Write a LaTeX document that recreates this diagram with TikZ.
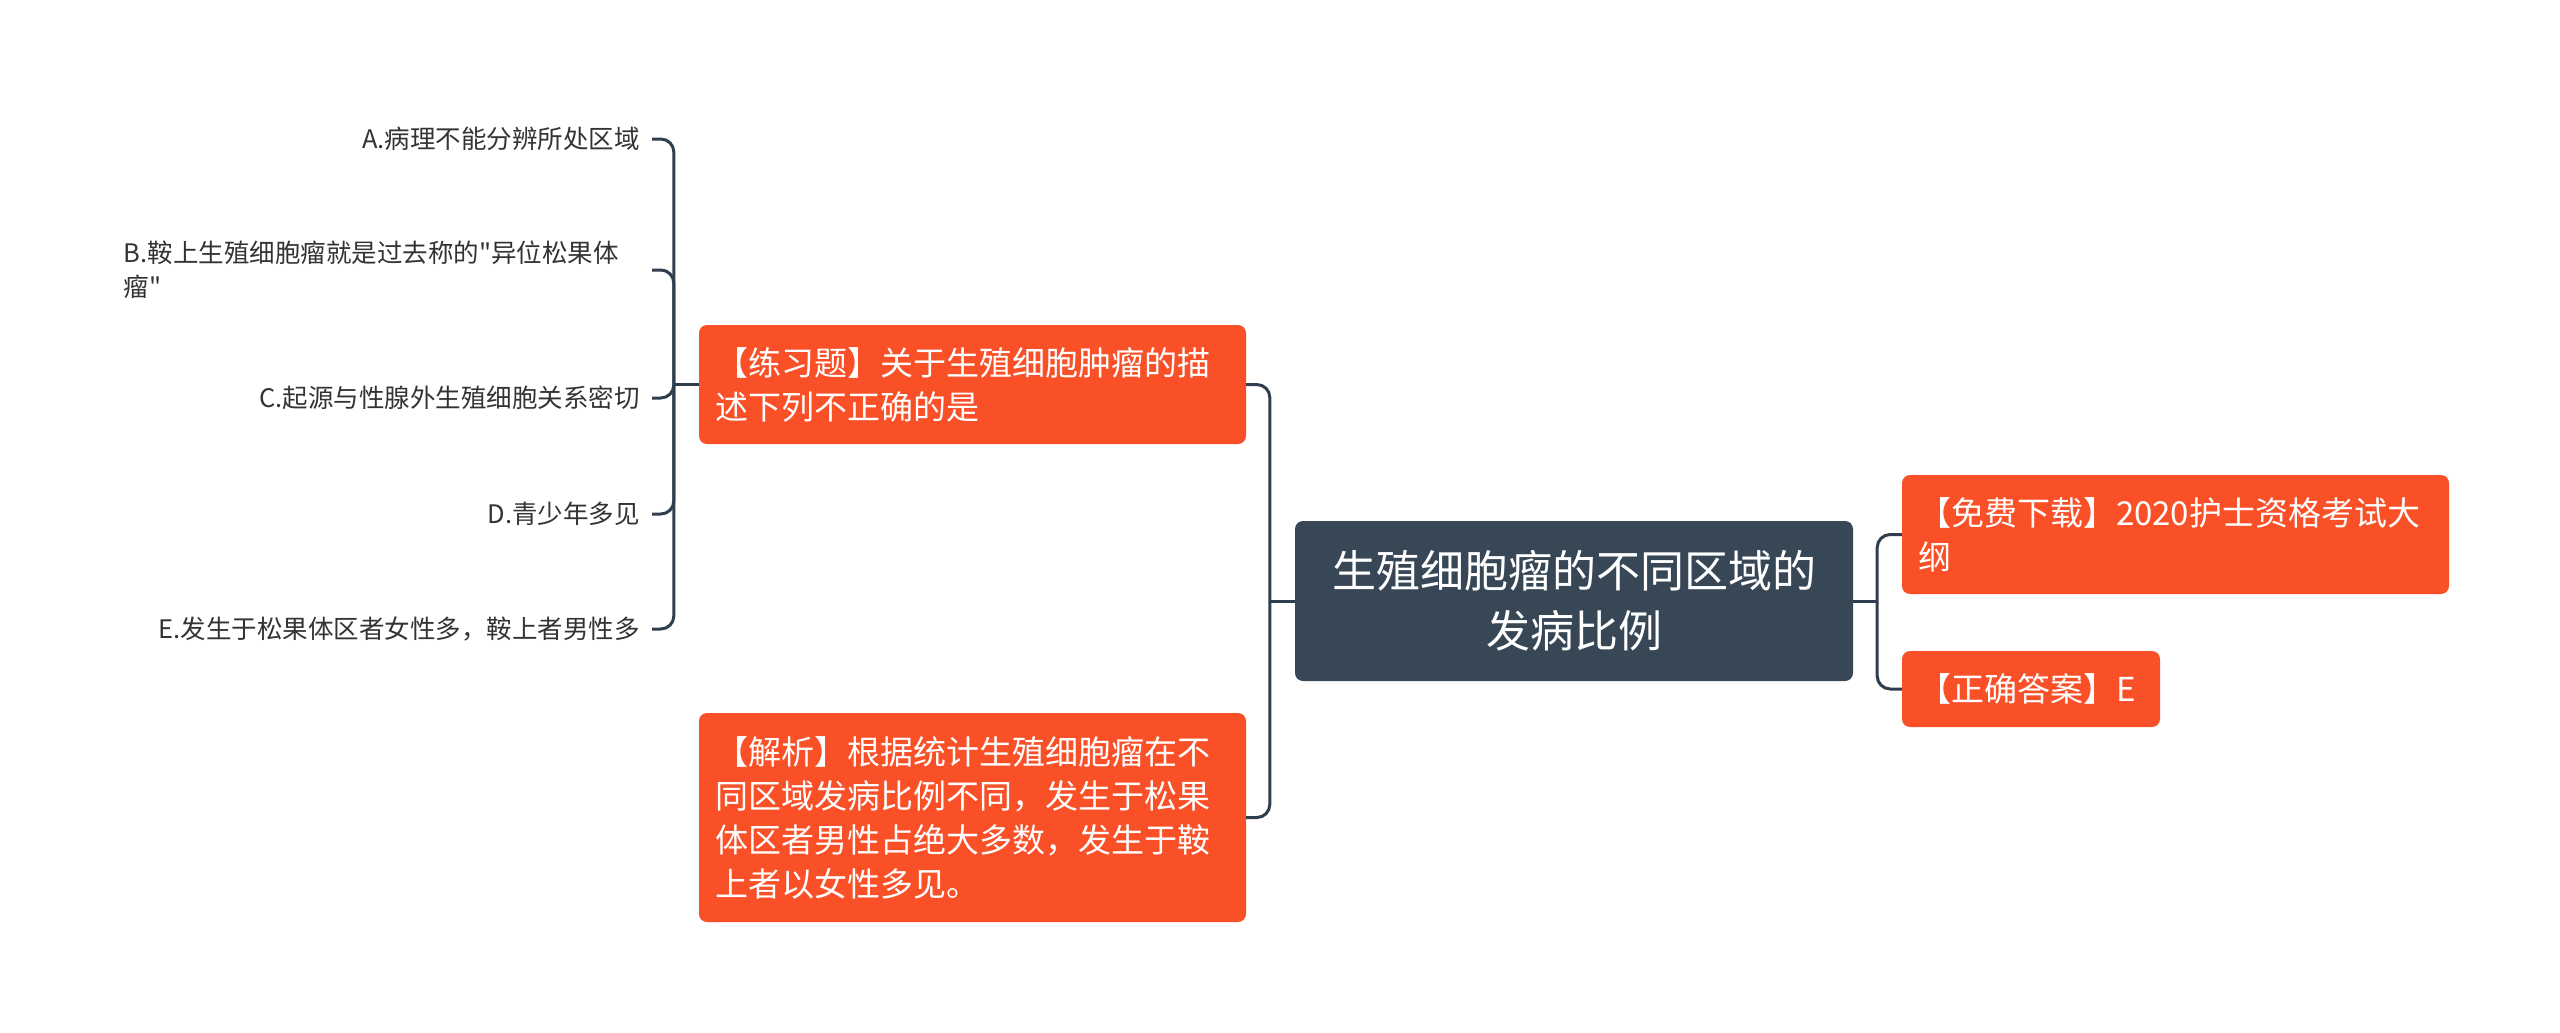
\documentclass[tikz,border=0pt]{standalone}
\usepackage{fontspec}
\setmainfont{Noto Sans CJK SC}[Ligatures=TeXOff]
\usepackage{xcolor}
\usetikzlibrary{positioning}
\definecolor{rootfill}{RGB}{55,71,86}
\definecolor{topicfill}{RGB}{250,80,40}
\definecolor{linkcol}{RGB}{47,62,78}
\definecolor{leaftext}{RGB}{51,51,51}

\begin{document}
\begin{tikzpicture}[x=1pt,y=-1pt,
  rootbox/.style={fill=rootfill,text=white,rounded corners=8pt,align=center,
    inner xsep=19pt,text width=520pt,minimum height=160pt,
    font=\fontsize{44pt}{60pt}\selectfont},
  topic/.style={fill=topicfill,text=white,rounded corners=8pt,align=left,
    inner xsep=16pt,font=\fontsize{33pt}{44pt}\selectfont},
  leaf/.style={text=leaftext,anchor=east,inner xsep=12pt,inner ysep=0pt,
    align=left,font=\fontsize{25.5pt}{34pt}\selectfont},
  link/.style={draw=linkcol,line width=3pt,rounded corners=13pt}]
\useasboundingbox (0,0) rectangle (2560,1033);

\node[rootbox] (root) at (1574,601) {生殖细胞瘤的不同区域的\\发病比例};

\node[topic,text width=515pt,minimum height=119pt] (q1) at (972.5,384.5)
  {【练习题】关于生殖细胞肿瘤的描\\述下列不正确的是};
\node[topic,text width=515pt,minimum height=209pt] (q2) at (972.5,817.5)
  {【解析】根据统计生殖细胞瘤在不\\同区域发病比例不同，发生于松果\\体区者男性占绝大多数，发生于鞍\\上者以女性多见。};
\node[topic,text width=515pt,minimum height=119pt] (r1) at (2175.5,534.5)
  {【免费下载】2020护士资格考试大\\纲};
\node[topic,text width=226pt,minimum height=76pt] (r2) at (2031,689)
  {【正确答案】E};

\node[leaf] (la) at (652,139) {A.病理不能分辨所处区域};
\node[leaf,text width=516pt] (lb) at (652,270) {B.鞍上生殖细胞瘤就是过去称的"异位松果体\\瘤"};
\node[leaf] (lc) at (652,398) {C.起源与性腺外生殖细胞关系密切};
\node[leaf] (ld) at (652,514) {D.青少年多见};
\node[leaf] (le) at (652,629) {E.发生于松果体区者女性多，鞍上者男性多};

\coordinate (jl) at ([xshift=-25pt]root.west);
\coordinate (jr) at ([xshift=24pt]root.east);
\coordinate (jq) at ([xshift=-25pt]q1.west);

\draw[link] (root.west) -- (jl);
\draw[link] (jl) |- (q1.east);
\draw[link] (jl) |- (q2.east);
\draw[link] (root.east) -- (jr);
\draw[link] (jr) |- (r1.west);
\draw[link] (jr) |- (r2.west);
\draw[link] (q1.west) -- (jq);
\draw[link] (jq) |- (la.east);
\draw[link] (jq) |- (lb.east);
\draw[link] (jq) |- (lc.east);
\draw[link] (jq) |- (ld.east);
\draw[link] (jq) |- (le.east);
\end{tikzpicture}
\end{document}
